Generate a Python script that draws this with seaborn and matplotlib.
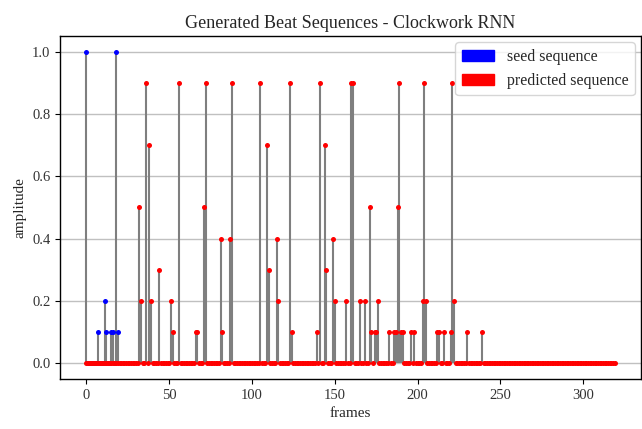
import numpy as np
import pandas as pd
import matplotlib
matplotlib.use("Agg")
import matplotlib.pyplot as plt
from matplotlib.patches import Patch
import seaborn as sns

# ---- data ----
n_frames = 320
seed_len = 20
seed_values = [1.0, 0, 0, 0, 0, 0, 0, 0.1, 0, 0, 0, 0.2, 0.1, 0, 0, 0.1, 0.1, 0, 1.0, 0.1]

pred_peak_frames = [32, 33, 36, 38, 39, 44, 51, 52, 56, 66, 67, 71, 72, 81, 82, 87, 88,
                    105, 109, 110, 115, 116, 123, 124, 139, 141, 144, 145, 149, 150,
                    157, 160, 161, 165, 168, 171, 172, 174, 175, 176, 183, 186, 187,
                    188, 189, 190, 191, 196, 198, 203, 204, 205, 212, 213, 216, 220,
                    221, 222, 230, 239]
pred_peak_values = [0.5, 0.2, 0.9, 0.7, 0.2, 0.3, 0.2, 0.1, 0.9, 0.1, 0.1, 0.5, 0.9, 0.4, 0.1, 0.4, 0.9,
                    0.9, 0.7, 0.3, 0.4, 0.2, 0.9, 0.1, 0.1, 0.9, 0.7, 0.3, 0.4, 0.2,
                    0.2, 0.9, 0.9, 0.2, 0.2, 0.5, 0.1, 0.1, 0.1, 0.2, 0.1, 0.1, 0.1,
                    0.5, 0.9, 0.1, 0.1, 0.1, 0.1, 0.2, 0.9, 0.2, 0.1, 0.1, 0.1, 0.1,
                    0.9, 0.2, 0.1, 0.1]

legend_labels = ["seed sequence", "predicted sequence"]

# ---- build tables ----
seed_df = pd.DataFrame({"frame": np.arange(seed_len), "amplitude": seed_values})
pred_amp = np.zeros(n_frames)
pred_amp[pred_peak_frames] = pred_peak_values
pred_df = pd.DataFrame({"frame": np.arange(n_frames), "amplitude": pred_amp})

# ---- style ----
sns.set_style("ticks", {"axes.edgecolor": "black", "grid.color": "#c0c0c0"})
plt.rcParams["font.family"] = ["Liberation Serif", "DejaVu Serif"]

fig = plt.figure(figsize=(6.42, 4.29), dpi=100)
ax = fig.add_axes([60 / 642, 1 - 379 / 429, 581 / 642, (379 - 36) / 429])

stem_color = "#7f7f7f"
ax.vlines(seed_df["frame"], 0, seed_df["amplitude"], color=stem_color, lw=1.5, zorder=2)
sns.scatterplot(data=seed_df, x="frame", y="amplitude", color="blue", s=13,
                linewidth=0, ax=ax, zorder=3, legend=False)
ax.vlines(pred_df["frame"], 0, pred_df["amplitude"], color=stem_color, lw=1.5, zorder=2)
sns.scatterplot(data=pred_df, x="frame", y="amplitude", color="red", s=13,
                linewidth=0, ax=ax, zorder=3, legend=False)

ax.set_xlim(-15.95, 334.95)
ax.set_ylim(-0.05, 1.05)
ax.set_xticks([0, 50, 100, 150, 200, 250, 300])
ax.set_yticks([0.0, 0.2, 0.4, 0.6, 0.8, 1.0])
ax.set_yticklabels(["0.0", "0.2", "0.4", "0.6", "0.8", "1.0"])
ax.yaxis.grid(True, color="#c0c0c0", lw=1.0, zorder=0)
ax.xaxis.grid(False)
ax.set_axisbelow(True)
ax.tick_params(labelsize=10.5, colors="black", length=3.5, width=0.8)
for lab in ax.get_xticklabels() + ax.get_yticklabels():
    lab.set_color("#333333")

ax.set_title("Generated Beat Sequences - Clockwork RNN", fontsize=13)
ax.set_xlabel("frames", fontsize=11)
ax.set_ylabel("amplitude", fontsize=11)
for s in ax.spines.values():
    s.set_visible(True)
    s.set_linewidth(1.0)

handles = [Patch(color="blue", label=legend_labels[0]),
           Patch(color="red", label=legend_labels[1])]
ax.legend(handles=handles, loc="upper right", fontsize=11.5, frameon=True,
          borderaxespad=0.4)

fig.savefig("out.png", dpi=100)
